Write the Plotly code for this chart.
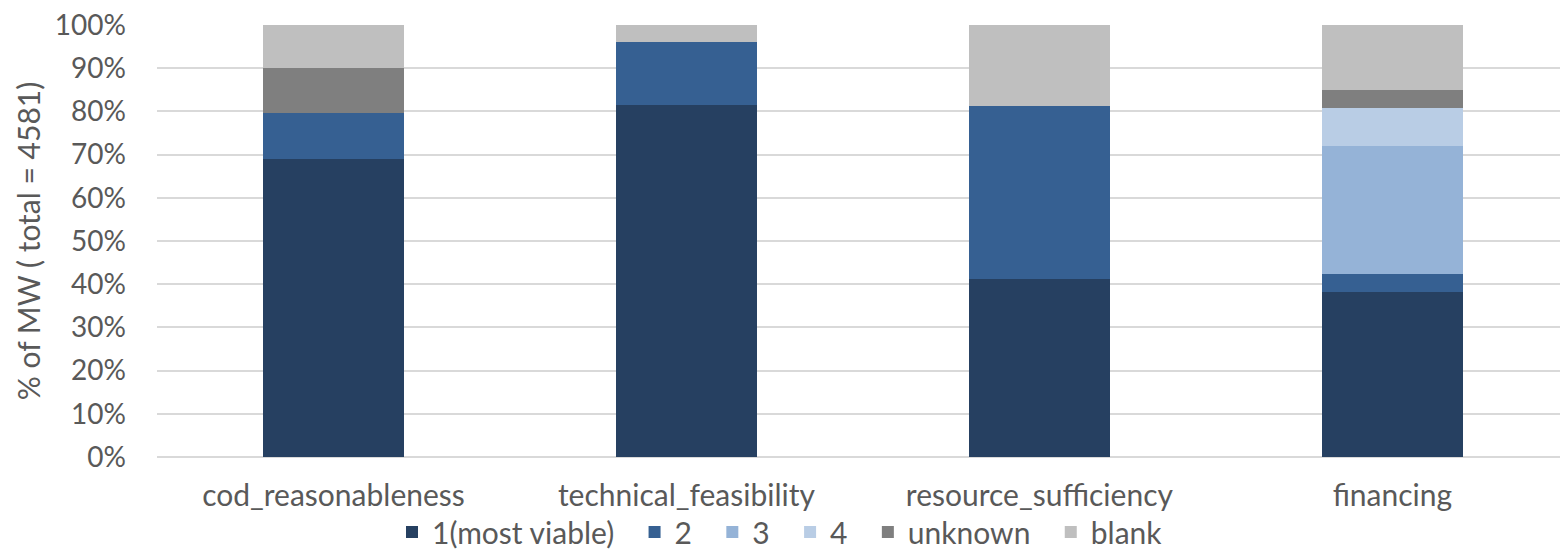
import plotly.graph_objects as go

categories = ["cod_reasonableness", "technical_feasibility", "resource_sufficiency", "financing"]

series_names = ["1(most viable)", "2", "3", "4", "unknown", "blank"]
share_1 = [69.0, 81.5, 41.2, 38.2]
share_2 = [10.6, 14.6, 40.1, 4.2]
share_3 = [0.0, 0.0, 0.0, 29.7]
share_4 = [0.0, 0.0, 0.0, 8.6]
share_unknown = [10.4, 0.0, 0.0, 4.3]
share_blank = [10.0, 3.9, 18.7, 15.0]

series_values = [share_1, share_2, share_3, share_4, share_unknown, share_blank]
series_colors = ["#264061", "#366092", "#95B3D7", "#B9CDE5", "#7F7F7F", "#BFBFBF"]

FONT = "Lato, Open Sans, sans-serif"
TEXT = "#595959"
SIZE = 30

# extra spacing after each legend entry (non-breaking spaces keep it from being trimmed)
PAD = "\u00a0\u00a0"

fig = go.Figure()
for i, (name, vals, color) in enumerate(zip(series_names, series_values, series_colors)):
    label = name + (PAD if i < len(series_names) - 1 else "")
    fig.add_trace(go.Bar(
        x=categories, y=vals, name=label,
        marker=dict(color=color, line=dict(width=0)),
        width=0.4,
    ))

fig.update_layout(
    barmode="stack",
    width=1560, height=558,
    margin=dict(l=157, r=0, t=25, b=101, autoexpand=False),
    paper_bgcolor="white", plot_bgcolor="white",
    font=dict(family=FONT, size=SIZE, color=TEXT),
    legend=dict(
        orientation="h",
        xref="container", x=0.5, xanchor="center",
        yref="container", y=0.0, yanchor="bottom",
        bgcolor="rgba(0,0,0,0)",
        font=dict(family=FONT, size=SIZE, color=TEXT),
        itemwidth=30, tracegroupgap=0, traceorder="normal",
    ),
    xaxis=dict(
        range=[-0.5, 3.475], showgrid=False, showline=False,
        ticks="", tickfont=dict(size=SIZE, color=TEXT), ticklabelstandoff=18,
    ),
    yaxis=dict(
        range=[0, 100], dtick=10, ticksuffix="%",
        showgrid=True, gridcolor="#D9D9D9", gridwidth=1.5,
        zeroline=True, zerolinecolor="#D9D9D9", zerolinewidth=1.5,
        tickfont=dict(size=28, color=TEXT), ticklabelstandoff=30,
        title=dict(text="% of MW ( total = 4581)", font=dict(size=SIZE, color=TEXT), standoff=5),
    ),
    showlegend=True,
)

fig.write_html("out.html")
